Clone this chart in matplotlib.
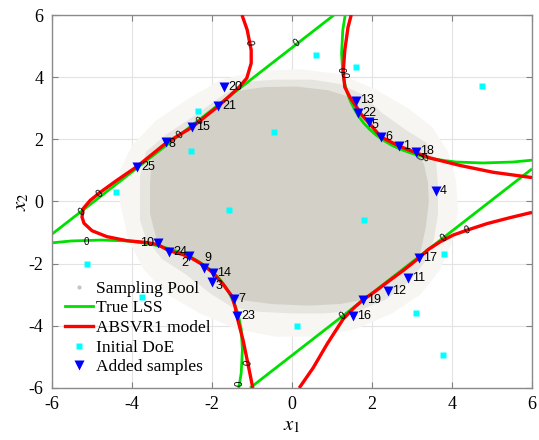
import numpy as np
import matplotlib.pyplot as plt
from matplotlib.lines import Line2D

plt.rcParams['font.family'] = ['Liberation Serif', 'DejaVu Serif']
plt.rcParams['mathtext.fontset'] = 'stix'
plt.rcParams['axes.unicode_minus'] = False

# ---- data ----
# true limit state surface (green)
lss_ul_x = [-6.0, 1.05]
lss_ul_y = [-1.05, 6.0]
lss_lr_x = [-1.05, 6.0]
lss_lr_y = [-6.0, 1.05]
lss_ur_x = [1.35, 1.27, 1.24, 1.27, 1.32, 1.38, 1.46, 1.56, 1.67, 1.80, 1.95, 2.12,
            2.31, 2.51, 2.73, 2.97, 3.23, 3.50, 3.79, 4.10, 4.77, 5.52, 6.16]
lss_ur_y = [6.16, 5.52, 4.77, 4.10, 3.79, 3.50, 3.23, 2.97, 2.73, 2.51, 2.31, 2.12,
            1.95, 1.80, 1.67, 1.56, 1.46, 1.38, 1.32, 1.27, 1.24, 1.27, 1.35]
lss_ll_x = [-v for v in lss_ur_x]
lss_ll_y = [-v for v in lss_ur_y]

# ABSVR1 model (red)
mod_left_x = [-1.25, -1.12, -1.02, -1.02, -1.13, -1.32, -1.85, -2.50, -3.15, -3.88, -4.38,
              -4.80, -5.05, -5.22, -5.25, -5.20, -5.00, -4.63, -4.13, -3.63, -3.35, -3.08,
              -2.80, -2.58, -2.20, -1.98, -1.73, -1.50, -1.42, -1.38, -1.22, -1.10, -0.98]
mod_left_y = [6.00, 5.52, 4.87, 4.45, 3.97, 3.68, 3.06, 2.39, 1.88, 1.12, 0.68,
              0.29, 0.03, -0.23, -0.50, -0.70, -0.94, -1.13, -1.26, -1.32, -1.39, -1.58,
              -1.68, -1.77, -2.06, -2.29, -2.65, -3.05, -3.40, -3.68, -4.48, -5.23, -6.00]
mod_ur_x = [1.48, 1.40, 1.32, 1.28, 1.32, 1.45, 1.62, 1.72, 1.93, 2.22, 2.68, 3.12,
            3.45, 4.20, 5.03, 6.00]
mod_ur_y = [6.00, 5.60, 4.87, 4.16, 3.68, 3.35, 3.03, 2.82, 2.52, 2.08, 1.78, 1.56,
            1.40, 1.16, 0.94, 0.77]
mod_lr_x = [6.00, 5.45, 4.88, 4.38, 4.03, 3.70, 3.40, 3.18, 2.80, 2.40, 2.05, 1.78,
            1.55, 1.28, 0.88, 0.53, 0.18]
mod_lr_y = [-0.35, -0.52, -0.71, -0.92, -1.08, -1.30, -1.55, -1.81, -2.20, -2.58, -2.92, -3.16,
            -3.42, -3.78, -4.58, -5.35, -6.00]

# sampling pool outlines (dense core, mid fringe, sparse fringe)
pool_core_x = [-3.55, -3.55, -3.50, -3.15, -2.50, -1.85, -1.40, -0.70, 0.10, 0.90, 1.40,
               1.62, 1.72, 1.93, 2.22, 2.68, 3.12, 3.30, 3.40, 3.42, 3.35, 3.25, 3.18,
               2.80, 2.40, 2.05, 1.78, 1.20, 0.40, -0.50, -1.10, -1.45, -1.50, -1.73,
               -1.98, -2.20, -2.58, -2.80, -3.08, -3.35, -3.45, -3.55]
pool_core_y = [0.00, 0.60, 1.40, 1.88, 2.39, 3.06, 3.55, 3.68, 3.70, 3.58, 3.38,
               3.03, 2.82, 2.52, 2.08, 1.78, 1.56, 1.20, 0.60, 0.00, -0.80, -1.40, -1.81,
               -2.20, -2.58, -2.92, -3.16, -3.30, -3.35, -3.30, -3.20, -3.13, -3.05, -2.65,
               -2.29, -2.06, -1.77, -1.68, -1.58, -1.39, -0.90, -0.40]
pool_mid_x = [-3.80, -3.80, -3.65, -3.15, -2.45, -1.75, -1.20, -0.40, 0.50, 1.20, 1.75,
              2.25, 2.85, 3.35, 3.60, 3.65, 3.65, 3.55, 3.35, 2.95, 2.35, 1.70, 0.80,
              0.00, -0.80, -1.50, -2.05, -2.65, -3.25, -3.65, -3.80]
pool_mid_y = [0.00, 0.80, 1.60, 2.15, 2.75, 3.40, 3.85, 3.92, 3.92, 3.78, 3.45,
              2.85, 2.30, 1.90, 1.30, 0.50, -0.40, -1.20, -1.90, -2.55, -3.15, -3.50, -3.60,
              -3.60, -3.55, -3.40, -2.95, -2.35, -1.85, -1.20, -0.60]
pool_out_x = [-4.30, -4.30, -4.00, -3.40, -2.60, -1.80, -0.90, 0.20, 1.20, 2.10, 2.90,
              3.50, 3.90, 4.10, 4.15, 4.00, 3.70, 3.20, 2.50, 1.60, 0.60, -0.40, -1.40,
              -2.30, -3.10, -3.70, -4.10]
pool_out_y = [0.00, 1.00, 1.80, 2.60, 3.30, 3.90, 4.20, 4.25, 4.10, 3.60, 3.00,
              2.40, 1.60, 0.70, -0.30, -1.30, -2.20, -3.00, -3.60, -4.10, -4.35, -4.35, -4.10,
              -3.60, -3.00, -2.20, -1.20]

# initial design of experiments
doe_x = [0.60, 1.60, 4.75, -2.35, -0.45, -2.53, -4.40, -1.58, 1.80, 3.80, -5.13, -3.75,
         0.12, 3.10, 3.78]
doe_y = [4.71, 4.32, 3.70, 2.90, 2.23, 1.61, 0.32, -0.26, -0.58, -1.68, -2.00, -3.06,
         -4.00, -3.58, -4.94]

# added samples (id, x1, x2)
add_id = [1, 2, 3, 4, 5, 6, 7, 8, 9, 10, 11, 12, 13, 14, 15, 16, 17, 18, 19, 20, 21,
          22, 23, 24, 25]
add_x = [2.68, -2.58, -2.00, 3.60, 1.93, 2.23, -1.45, -3.15, -2.20, -3.35, 2.90, 2.40,
         1.60, -1.98, -2.50, 1.53, 3.18, 3.10, 1.78, -1.70, -1.85, 1.65, -1.38, -3.08, -3.88]
add_y = [1.77, -1.74, -2.58, 0.35, 2.55, 2.06, -3.13, 1.90, -2.13, -1.35, -2.45, -2.87,
         3.23, -2.29, 2.39, -3.68, -1.81, 1.58, -3.16, 3.68, 3.06, 2.84, -3.68, -1.61, 1.10]

# contour "0" labels
green_lbl_x = [0.12, -5.25, -5.13, -1.30, 1.28, 3.80, 1.22, 3.24]
green_lbl_y = [5.10, -0.33, -1.29, -5.84, -3.68, -1.17, 4.24, 1.44]
red_lbl_x = [-1.08, -4.80, -1.10, 4.38, 1.30, 3.34, -2.30, -2.80]
red_lbl_y = [5.13, 0.24, -5.20, -0.92, 4.08, 1.40, 2.60, 2.15]

# ---- plot ----
fig = plt.figure(figsize=(5.39, 4.40), dpi=100)
ax = fig.add_axes([52 / 539, 1 - 388 / 440, 480 / 539, 373 / 440])

ax.fill(pool_out_x, pool_out_y, color='#F7F6F3', lw=0, zorder=1)
ax.fill(pool_mid_x, pool_mid_y, color='#E7E5DF', lw=0, zorder=1)
ax.fill(pool_core_x, pool_core_y, color='#D3D1C7', lw=0, zorder=1)

green = '#00E000'
for gx, gy in [(lss_ul_x, lss_ul_y), (lss_lr_x, lss_lr_y), (lss_ur_x, lss_ur_y), (lss_ll_x, lss_ll_y)]:
    ax.plot(gx, gy, color=green, lw=2.0, zorder=2, solid_capstyle='butt')
for rx, ry in [(mod_left_x, mod_left_y), (mod_ur_x, mod_ur_y), (mod_lr_x, mod_lr_y)]:
    ax.plot(rx, ry, color='#FF0000', lw=2.4, zorder=3, solid_capstyle='butt')

green_rot = [38, 38, 0, 90, 38, 38, -90, 60]
red_rot = [-85, 40, 80, 20, -90, 25, 38, 38]
for x, y, r in zip(green_lbl_x, green_lbl_y, green_rot):
    ax.text(x, y, '0', fontsize=7, family='Liberation Sans', rotation=r,
            ha='center', va='center', zorder=4)
for x, y, r in zip(red_lbl_x, red_lbl_y, red_rot):
    ax.text(x, y, '0', fontsize=7, family='Liberation Sans', rotation=r,
            ha='center', va='center', zorder=4)

ax.plot(doe_x, doe_y, 's', color='#00FFFF', ms=5, mec='none', zorder=5)
ax.plot(add_x, add_y, 'v', color='#0000FF', ms=7, mec='none', zorder=6)

# label offsets (points) for the added samples
offs = {10: (-3, 0, 'right'), 2: (-3, -5, 'center'), 9: (3, 7, 'center'),
        3: (5, -3, 'center'), 5: (4, -2, 'center'), 18: (3, 1, 'left'),
        22: (3, 0, 'left'), 13: (3, 1, 'left'), 8: (2, -1, 'left')}
for i, x, y in zip(add_id, add_x, add_y):
    dx, dy, ha = offs.get(i, (3, 0, 'left'))
    ax.annotate(str(i), (x, y), xytext=(dx, dy), textcoords='offset points',
                ha=ha, va='center', fontsize=9, family='Liberation Sans', zorder=7)

ax.set_xlim(-6, 6)
ax.set_ylim(-6, 6)
ax.set_xticks(np.arange(-6, 7, 2))
ax.set_yticks(np.arange(-6, 7, 2))
ax.grid(True, color='#E3E3E3', lw=0.8)
ax.set_axisbelow(True)
ax.tick_params(direction='in', top=True, right=True, length=4, color='#808080',
               labelsize=13, pad=6)
for s in ax.spines.values():
    s.set_color('#8A8A8A')
    s.set_linewidth(1.0)
ax.set_xlabel('$x_1$', fontsize=15, labelpad=2)
ax.set_ylabel('$x_2$', fontsize=15, labelpad=-2)

handles = [Line2D([], [], ls='none', marker='.', ms=4, color='#C8C6BC'),
           Line2D([], [], color=green, lw=2.0),
           Line2D([], [], color='#FF0000', lw=2.4),
           Line2D([], [], ls='none', marker='s', ms=5, color='#00FFFF', mec='none'),
           Line2D([], [], ls='none', marker='v', ms=7, color='#0000FF', mec='none')]
labels = ['Sampling Pool', 'True LSS', 'ABSVR1 model', 'Initial DoE', 'Added samples']
ax.legend(handles, labels, loc='lower left', bbox_to_anchor=(0.006, 0.006),
          frameon=False, fontsize=12.5, handlelength=1.6, handletextpad=0.15,
          labelspacing=0.2, borderpad=0.1)

fig.savefig('out.png', dpi=100)
